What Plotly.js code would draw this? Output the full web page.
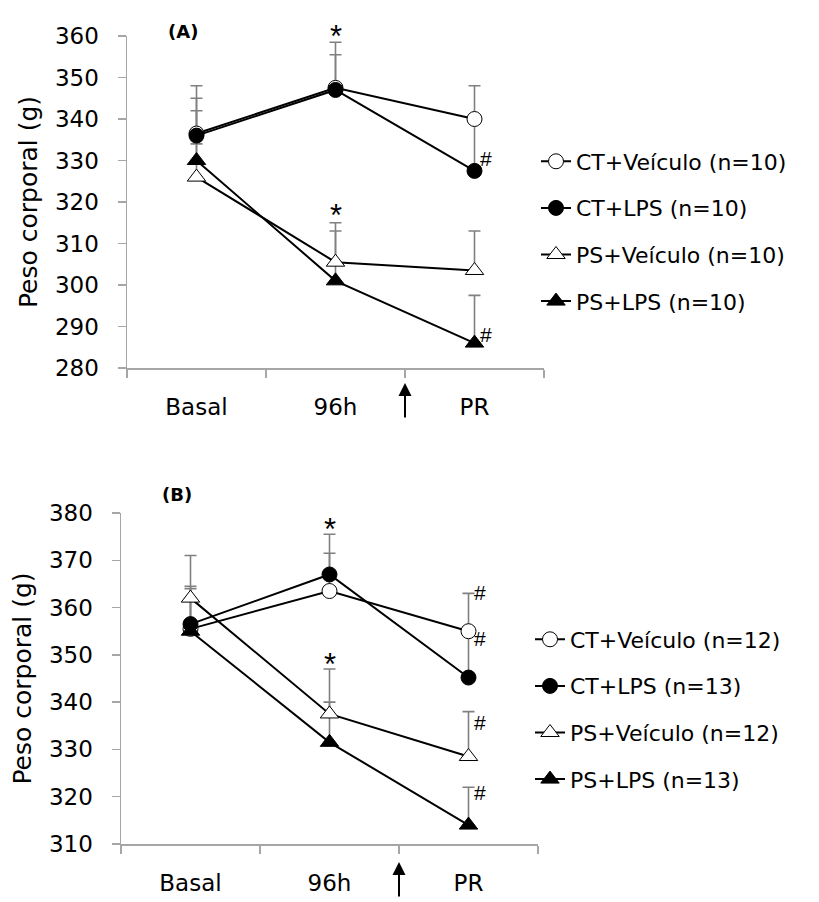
<!DOCTYPE html>
<html>
<head>
<meta charset="utf-8">
<script src="https://cdn.plot.ly/plotly-3.0.1.min.js"></script>
<style>html,body{margin:0;padding:0;background:#fff;}#chart{width:819px;height:902px;}</style>
</head>
<body>
<div id="chart"></div>
<script>
// ---------- data ----------
var categories = ["Basal", "96h", "PR"];
var seriesNames = ["CT+Veículo", "CT+LPS", "PS+Veículo", "PS+LPS"];

// Panel A
var nA = [10, 10, 10, 10];
var ctVehA = [336.5, 347.5, 340];
var ctLpsA = [336, 347, 327.5];
var psVehA = [326, 305.5, 303.5];
var psLpsA = [330, 301, 286];
var ctVehAErr = [11.5, 8, 8];
var ctLpsAErr = [9, 11.5, 12.5];
var psVehAErr = [8, 9.5, 9.5];
var psLpsAErr = [12, 12, 11.5];

// Panel B
var nB = [12, 13, 12, 13];
var ctVehB = [355.5, 363.5, 355];
var ctLpsB = [356.5, 367, 345.2];
var psVehB = [362, 337.5, 328.5];
var psLpsB = [355, 331.5, 314];
var ctVehBErr = [8.5, 8, 8];
var ctLpsBErr = [8, 8.5, 10];
var psVehBErr = [9, 9.5, 9.5];
var psLpsBErr = [7, 8.5, 8];

// y-axis ticks
var yTicksA = [280, 290, 300, 310, 320, 330, 340, 350, 360];
var yTicksB = [310, 320, 330, 340, 350, 360, 370, 380];

// significance marks: [category, value, symbol]
var marksA = [["96h", 361.4, "*"], ["96h", 318.1, "*"], ["PR", 330.6, "#"], ["PR", 288, "#"]];
var marksB = [["96h", 377.8, "*"], ["96h", 349.3, "*"], ["PR", 363.2, "#"], ["PR", 353.5, "#"], ["PR", 335.8, "#"], ["PR", 320.8, "#"]];

// ---------- layout helpers ----------
var W = 819, H = 902;
var ML = 121, MR = W - 544, MT = 36, MB = H - 844;
var PW = W - ML - MR, PH = H - MT - MB;
function px(x) { return (x - ML) / PW; }
function py(y) { return (H - MB - y) / PH; }

var FONT = "DejaVu Sans";
var styles = [
  {symbol: "circle", fill: "#ffffff", size: 15},
  {symbol: "circle", fill: "#000000", size: 15},
  {symbol: "triangle-up", fill: "#ffffff", size: 16},
  {symbol: "triangle-up", fill: "#000000", size: 16}
];

var domA = [py(368), 1], domB = [0, py(513)];

var traces = [];
function addPanel(vals, errs, ns, xa, ya, legendId, grp) {
  for (var i = 0; i < vals.length; i++) {
    traces.push({
      x: categories, y: vals[i], xaxis: xa, yaxis: ya, type: "scatter", mode: "markers",
      marker: {color: "rgba(0,0,0,0)", size: 1},
      error_y: {type: "data", symmetric: false, array: errs[i], arrayminus: [0, 0, 0],
                color: "#808080", thickness: 1.6, width: 6},
      showlegend: false, hoverinfo: "skip"
    });
  }
  for (var j = 0; j < vals.length; j++) {
    traces.push({
      x: categories, y: vals[j], xaxis: xa, yaxis: ya, type: "scatter", mode: "lines+markers",
      name: seriesNames[j] + " (n=" + ns[j] + ")",
      legend: legendId, legendgroup: grp + j,
      line: {color: "#000000", width: 2},
      marker: {symbol: styles[j].symbol, size: styles[j].size, color: styles[j].fill,
               line: {color: "#000000", width: 1}},
      cliponaxis: false
    });
  }
}
addPanel([ctVehA, ctLpsA, psVehA, psLpsA], [ctVehAErr, ctLpsAErr, psVehAErr, psLpsAErr], nA, "x", "y", "legend", "a");
addPanel([ctVehB, ctLpsB, psVehB, psLpsB], [ctVehBErr, ctLpsBErr, psVehBErr, psLpsBErr], nB, "x2", "y2", "legend2", "b");

function xaxisDef(domain, anchor) {
  return {
    domain: domain, anchor: anchor, type: "category", categoryarray: categories,
    range: [-0.5, 2.5], showline: true, linecolor: "#a6a6a6", linewidth: 1.5,
    ticks: "outside", tickson: "boundaries", ticklen: 8, tickcolor: "#a6a6a6", tickwidth: 1.5,
    showgrid: false, zeroline: false, ticklabelstandoff: 18,
    tickfont: {family: FONT, size: 23, color: "#000"}
  };
}
function yaxisDef(domain, anchor, ticks) {
  return {
    domain: domain, anchor: anchor, range: [ticks[0], ticks[ticks.length - 1]],
    tickvals: ticks, showline: true, linecolor: "#a6a6a6", linewidth: 1.5,
    ticks: "outside", ticklen: 8, tickcolor: "#a6a6a6", tickwidth: 1.5,
    showgrid: false, zeroline: false, ticklabelstandoff: 14,
    tickfont: {family: FONT, size: 23, color: "#000"},
    title: {text: "Peso corporal (g)", font: {family: FONT, size: 25, color: "#000"}, standoff: 10}
  };
}

var annotations = [];
// marks placed in paper space from their data value (so marks above the axis top stay visible)
function addMarks(marks, xref, ticks, dom) {
  var lo = ticks[0], hi = ticks[ticks.length - 1];
  marks.forEach(function (m) {
    var star = m[2] === "*";
    var yp = dom[0] + (m[1] - lo) / (hi - lo) * (dom[1] - dom[0]);
    annotations.push({
      x: m[0], y: yp, xref: xref, yref: "paper", text: m[2], showarrow: false,
      xshift: star ? 0 : 11, yanchor: "middle", xanchor: "center",
      yshift: star ? -6 : 0,
      font: {family: "Liberation Sans", size: star ? 31 : 21, color: "#000"}
    });
  });
}
addMarks(marksA, "x", yTicksA, domA);
addMarks(marksB, "x2", yTicksB, domB);

annotations.push({xref: "paper", yref: "paper", x: px(166), y: py(19), text: "<b>(A)</b>", showarrow: false,
  font: {family: FONT, size: 18, color: "#000"}});
annotations.push({xref: "paper", yref: "paper", x: px(160), y: py(495), text: "<b>(B)</b>", showarrow: false,
  font: {family: FONT, size: 18, color: "#000"}});

// arrows marking the treatment time
annotations.push({xref: "x", yref: "paper", x: 1.5, y: py(383), ax: 0, ay: 36, text: "",
  showarrow: true, arrowhead: 2, arrowsize: 1.3, arrowwidth: 2, arrowcolor: "#000"});
annotations.push({xref: "x2", yref: "paper", x: 1.5, y: py(862), ax: 0, ay: 36, text: "",
  showarrow: true, arrowhead: 2, arrowsize: 1.3, arrowwidth: 2, arrowcolor: "#000"});

var legendBase = {
  xanchor: "left", yanchor: "middle", bgcolor: "rgba(0,0,0,0)", borderwidth: 0,
  font: {family: FONT, size: 22, color: "#000"}, traceorder: "grouped", tracegroupgap: 15,
  itemclick: false
};
var legend1 = Object.assign({}, legendBase, {x: px(536), y: py(231.5)});
var legend2 = Object.assign({}, legendBase, {x: px(530), y: py(709.5)});

var layout = {
  width: W, height: H,
  margin: {l: ML, r: MR, t: MT, b: MB},
  paper_bgcolor: "#fff", plot_bgcolor: "#fff",
  xaxis: xaxisDef([px(127), 1], "y"),
  yaxis: yaxisDef(domA, "x", yTicksA),
  xaxis2: xaxisDef([0, px(538)], "y2"),
  yaxis2: yaxisDef(domB, "x2", yTicksB),
  legend: legend1, legend2: legend2,
  annotations: annotations,
  showlegend: true
};

Plotly.newPlot("chart", traces, layout, {staticPlot: true});
</script>
</body>
</html>
